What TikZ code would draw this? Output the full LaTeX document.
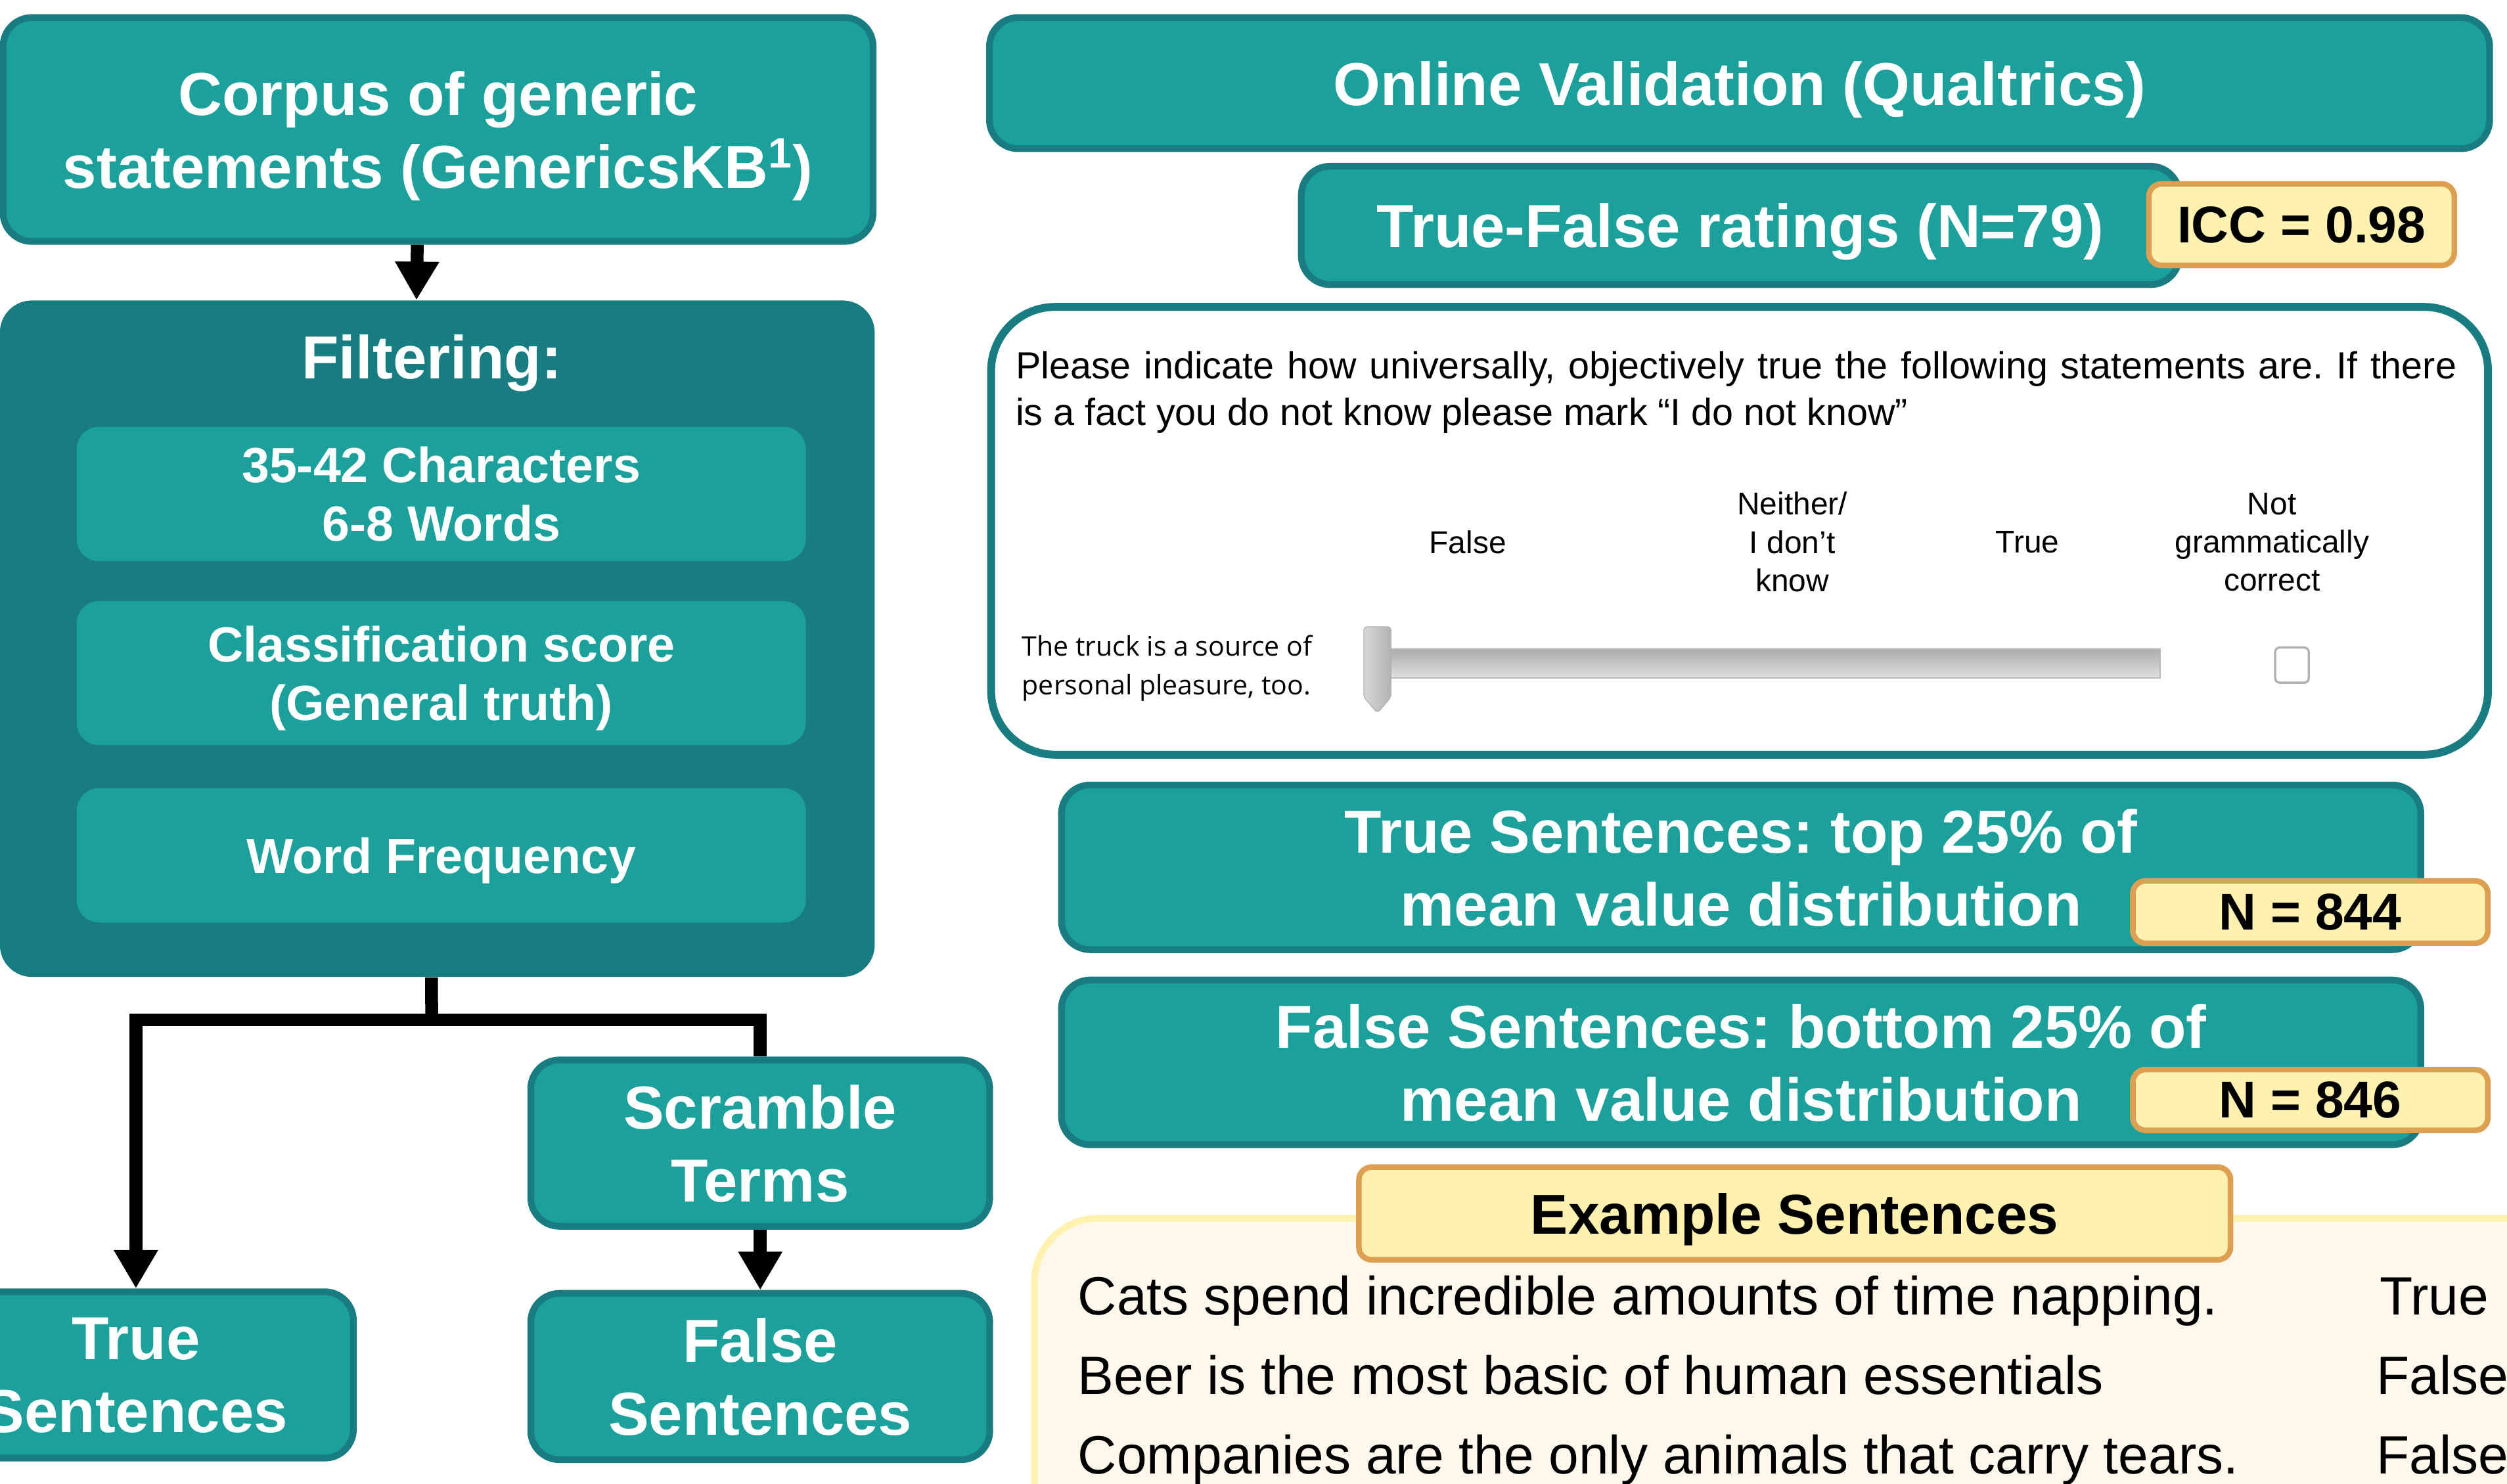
\documentclass[tikz,border=0pt]{standalone}
\usepackage{fontspec}
\setmainfont{Liberation Sans}
\newfontfamily\truckfont{Open Sans}
\usetikzlibrary{arrows.meta}
\definecolor{tealfill}{HTML}{1BA09C}
\definecolor{tealedge}{HTML}{187C80}
\definecolor{tagfill}{HTML}{FFF1AF}
\definecolor{tagedge}{HTML}{DDA052}
\definecolor{creamfill}{HTML}{FEF8EC}
\tikzstyle{tealbox}=[draw=tealedge, fill=tealfill, line width=3pt, rounded corners=0.45cm, text=white, align=center, inner sep=0pt, text depth=0pt, font={\fontsize{27}{32.4}\selectfont\bfseries}]
\tikzstyle{filterbox}=[fill=tealfill, rounded corners=0.35cm, text=white, align=center, inner sep=0pt, text depth=0pt, minimum width=11.4cm, font={\fontsize{22}{26}\selectfont\bfseries}]
\tikzstyle{tagbox}=[draw=tagedge, fill=tagfill, line width=2.5pt, rounded corners=0.2cm, inner sep=0pt, text depth=0pt, font={\fontsize{23}{27}\selectfont\bfseries}]
\tikzstyle{option}=[align=center, inner sep=0pt, font={\fontsize{14}{17}\selectfont}]
\tikzstyle{example}=[anchor=base west, inner sep=0pt, font={\fontsize{24}{28}\selectfont}]
\tikzstyle{flow}=[line width=5.7pt]
\tikzstyle{flowarrow}=[flow, -{Triangle[width=0.65cm, length=0.6cm]}]

\begin{document}
\frenchspacing
\begin{tikzpicture}[x=0.025cm, y=-0.025cm]
    \useasboundingbox (0,0) rectangle (1568,928);
    % left column
    \node[tealbox, minimum width=13.6cm, minimum height=3.5cm] (corpus) at (274,81) {Corpus of generic\\statements (GenericsKB\textsuperscript{1})};
    \node[fill=tealedge, rounded corners=0.5cm, minimum width=13.675cm, minimum height=10.575cm] (filt) at (273.5,399.5) {};
    \node[anchor=base, text=white, inner sep=0pt, font={\fontsize{27}{32.4}\selectfont\bfseries}] (filttitle) at (270,237) {Filtering:};
    \node[filterbox, minimum height=2.1cm] (chars) at (276,309) {35-42 Characters\\6-8 Words};
    \node[filterbox, minimum height=2.25cm] (score) at (276,421) {Classification score\\(General truth)};
    \node[filterbox, minimum height=2.1cm] (freq) at (276,535) {Word Frequency};
    \node[tealbox, minimum width=7.175cm, minimum height=2.6cm] (scramble) at (475.5,715) {Scramble\\Terms};
    \node[tealbox, minimum width=6.8cm, minimum height=2.6cm] (truesent) at (85,860) {True\\Sentences};
    \node[tealbox, minimum width=7.175cm, minimum height=2.6cm] (falsesent) at (475.5,861) {False\\Sentences};
    \coordinate (split) at (270,638);
    \draw[flowarrow] ([xshift=-0.325cm]corpus.south) -- ([xshift=-0.325cm]filt.north);
    \draw[flow] ([xshift=-0.09cm]filt.south) -- (split);
    \draw[flowarrow] (split) -| (truesent.north);
    \draw[flow] (split) -| (scramble.north);
    \draw[flowarrow] (scramble) -- (falsesent);
    % right column
    \node[tealbox, minimum width=23.45cm, minimum height=2.05cm] (online) at (1088,52) {Online Validation (Qualtrics)};
    \node[tealbox, minimum width=13.725cm, minimum height=1.85cm] (ratings) at (1088.5,141) {True-False ratings (N=79)};
    \node[tagbox, minimum width=4.775cm, minimum height=1.275cm] (icc) at (1439.5,140.5) {ICC = 0.98};
    \node[draw=tealedge, fill=white, line width=3.5pt, rounded corners=1cm, minimum width=23.4cm, minimum height=7cm] (survey) at (1088,332) {};
    \node[anchor=base west, inner sep=0pt, font={\fontsize{16.8}{20}\selectfont}] (prompta) at (635,237) {\makebox[22.525cm][s]{Please indicate how universally, objectively true the following statements are. If there}};
    \node[anchor=base west, inner sep=0pt, font={\fontsize{16.8}{20}\selectfont}] (promptb) at (635,266) {is a fact you do not know please mark “I do not know”};
    \node[option] (optfalse) at (918,339) {False};
    \node[option] (optneither) at (1121,339) {Neither/\\I don’t\\know};
    \node[option] (opttrue) at (1268,339) {True};
    \node[option] (optgram) at (1421,339) {Not\\grammatically\\correct};
    \node[anchor=west, align=left, inner sep=0pt, font={\truckfont\fontsize{12}{17.2}\selectfont}] (item) at (639,418) {The truck is a source of\\personal pleasure, too.};
    \shade[top color=gray!65, bottom color=gray!25, draw=gray!55] (868,406) rectangle (1351,424);
    \shade[left color=gray!30, right color=gray!60, draw=gray!60, rounded corners=1.5pt] (853,392) -- (870,392) -- (870,436) -- (861.5,446) -- (853,436) -- cycle;
    \draw[gray!60, line width=1pt, rounded corners=2pt, fill=white] (1423,405) rectangle (1444,427);
    \node[tealbox, minimum width=21.25cm, minimum height=2.575cm] (toprange) at (1089,542.5) {True Sentences: top 25\% of\\mean value distribution};
    \node[tagbox, minimum width=5.55cm, minimum height=0.975cm] (ntrue) at (1445,570.5) {N = 844};
    \node[tealbox, minimum width=21.25cm, minimum height=2.575cm] (bottomrange) at (1089,664.5) {False Sentences: bottom 25\% of\\mean value distribution};
    \node[tagbox, minimum width=5.55cm, minimum height=0.95cm] (nfalse) at (1445,688) {N = 846};
    % examples
    \draw[draw=tagfill, fill=creamfill, line width=3pt, rounded corners=1cm] (647,762) rectangle (1640,1000);
    \node[tagbox, minimum width=13.625cm, minimum height=1.45cm, font={\fontsize{25}{30}\selectfont\bfseries}] (exhead) at (1122.5,759) {Example Sentences};
    \node[example] (exa) at (674,822.6) {Cats spend incredible amounts of time napping.};
    \node[example] (exb) at (674,872) {Beer is the most basic of human essentials};
    \node[example] (exc) at (674,921.7) {Companies are the only animals that carry tears.};
    \node[example] (exaval) at (1488,822.6) {True};
    \node[example] (exbval) at (1486,872) {False};
    \node[example] (excval) at (1486,921.7) {False};
\end{tikzpicture}
\end{document}
